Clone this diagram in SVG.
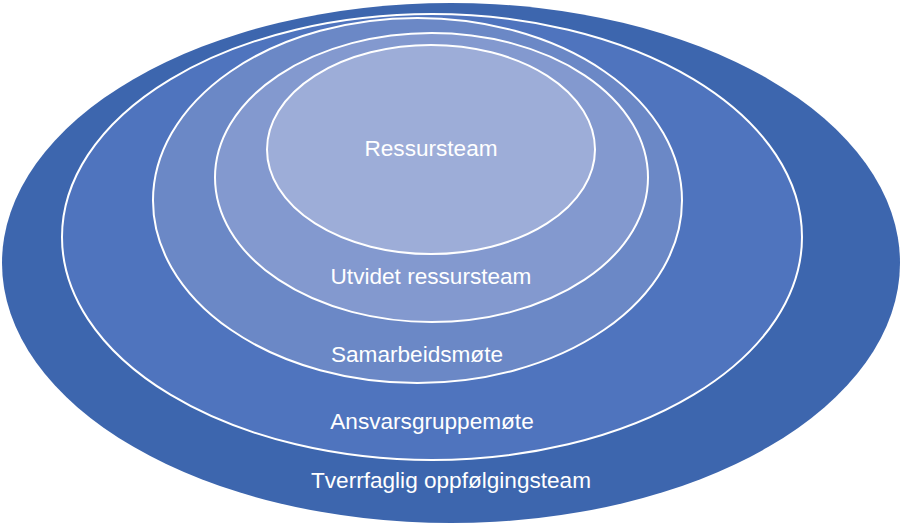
<svg xmlns="http://www.w3.org/2000/svg" width="902" height="527" viewBox="0 0 902 527">
<style>
.ring{stroke:#ffffff;stroke-width:2}
.lbl{font-family:"Liberation Sans",Arial,sans-serif;font-size:22.6px;fill:#ffffff;text-anchor:middle}
</style>
<rect width="902" height="527" fill="#ffffff"/>
<g id="tverrfaglig">
<ellipse cx="451" cy="263" rx="449" ry="260" fill="#3D66AE"/>
<text class="lbl" x="451" y="488">Tverrfaglig oppfølgingsteam</text>
</g>
<g id="ansvarsgruppemote">
<ellipse class="ring" cx="432" cy="237" rx="370" ry="223" fill="#4F74BE"/>
<text class="lbl" x="432" y="429">Ansvarsgruppemøte</text>
</g>
<g id="samarbeidsmote">
<ellipse class="ring" cx="417.5" cy="200.5" rx="264.5" ry="182.5" fill="#6B88C6"/>
<text class="lbl" x="417" y="362">Samarbeidsmøte</text>
</g>
<g id="utvidet">
<ellipse class="ring" cx="431.5" cy="177.5" rx="216.5" ry="144.5" fill="#8399CF"/>
<text class="lbl" x="431" y="284">Utvidet ressursteam</text>
</g>
<g id="ressursteam">
<ellipse class="ring" cx="431" cy="149.5" rx="164" ry="104.5" fill="#9DADD8"/>
<text class="lbl" x="431" y="156">Ressursteam</text>
</g>
<g id="connectors"/>
</svg>
